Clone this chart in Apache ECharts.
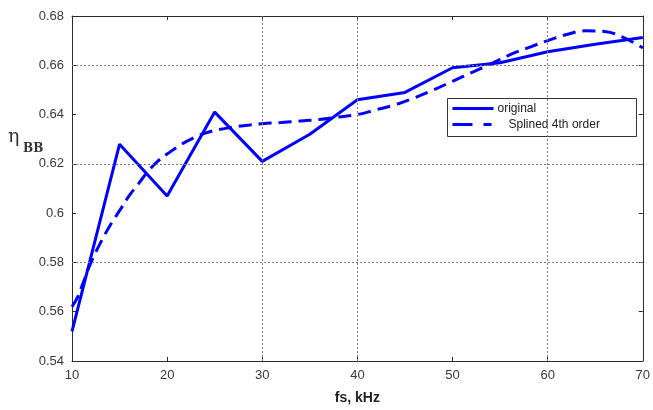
<!DOCTYPE html>
<html>
<head>
<meta charset="utf-8">
<style>
  html, body { margin: 0; padding: 0; background: #fff; }
  #chart { width: 653px; height: 410px; }
</style>
<script src="https://cdn.jsdelivr.net/npm/echarts@6/dist/echarts.min.js"></script>
</head>
<body>
<div id="chart"></div>
<script>
// Sampling frequency (kHz) and measured efficiency
const fsOriginal  = [10, 15, 20, 25, 30, 35, 40, 45, 50, 55, 60, 65, 70];
const etaOriginal = [0.552, 0.628, 0.607, 0.641, 0.621, 0.632, 0.646, 0.649, 0.659, 0.661, 0.6655, 0.6685, 0.6713];

// 4th-order spline fit of the same data
const fsSpline  = [10, 10.6, 11.2, 12, 13, 14, 15, 16, 17, 18, 19, 20, 22, 24, 26, 28, 30, 32, 34, 36, 38, 40, 42, 44, 46, 48, 50, 52, 54, 56, 58, 60, 62, 64, 66, 68, 70];
const etaSpline = [0.562, 0.566, 0.572, 0.580, 0.588, 0.595, 0.601, 0.607, 0.612, 0.617, 0.621, 0.624, 0.629, 0.6325, 0.6343, 0.6355, 0.6363, 0.6368, 0.6374, 0.638, 0.639, 0.640, 0.642, 0.644, 0.6468, 0.650, 0.6535, 0.657, 0.6605, 0.6642, 0.6672, 0.670, 0.6725, 0.674, 0.6737, 0.6712, 0.667];

// Axis ticks and dotted reference lines
const xTicks = { min: 10, max: 70, step: 10 };
const yTicks = { min: 0.54, max: 0.68, step: 0.02 };
const gridX = [30, 40, 60];
const gridY = [0.58, 0.62, 0.66];

const legendNames = ['original', 'Splined 4th order'];

const chart = echarts.init(document.getElementById('chart'), null, { renderer: 'canvas' });

const axisColor = '#2b2b2b';
const labelColor = '#3a3a3a';
const lineBlue = '#0000ff';
const font = 'Liberation Sans, Arial, sans-serif';

function xAxisDef(pos, withLabels) {
  return {
    type: 'value', position: pos, min: xTicks.min, max: xTicks.max, interval: xTicks.step,
    axisLine: { show: true, onZero: false, lineStyle: { color: axisColor, width: 1 } },
    axisTick: { show: true, inside: true, length: 4, lineStyle: { color: axisColor } },
    axisLabel: { show: withLabels, color: labelColor, fontSize: 13, fontFamily: font, margin: 8 },
    splitLine: { show: false },
    name: withLabels ? 'fs, kHz' : '',
    nameLocation: 'middle', nameGap: 30,
    nameTextStyle: { fontWeight: 'bold', fontSize: 14, color: '#222', fontFamily: font }
  };
}
function yAxisDef(pos, withLabels) {
  return {
    type: 'value', position: pos, min: yTicks.min, max: yTicks.max, interval: yTicks.step,
    axisLine: { show: true, onZero: false, lineStyle: { color: axisColor, width: 1 } },
    axisTick: { show: true, inside: true, length: 4, lineStyle: { color: axisColor } },
    axisLabel: {
      show: withLabels, color: labelColor, fontSize: 13, fontFamily: font, margin: 8,
      formatter: v => String(parseFloat(v.toFixed(2)))
    },
    splitLine: { show: false }
  };
}

const dotted = { color: '#7a7a7a', width: 1, type: [2, 2] };

chart.setOption({
  animation: false,
  backgroundColor: '#fff',
  grid: { left: 72, right: 10, top: 16, bottom: 48, show: false },
  xAxis: [xAxisDef('bottom', true), xAxisDef('top', false)],
  yAxis: [yAxisDef('left', true), yAxisDef('right', false)],
  series: [
    {
      name: 'grid',
      type: 'line',
      data: [],
      silent: true,
      markLine: {
        silent: true, symbol: 'none', label: { show: false },
        lineStyle: dotted,
        data: gridX.map(v => ({ xAxis: v })).concat(gridY.map(v => ({ yAxis: v })))
      }
    },
    {
      name: legendNames[1],
      type: 'line',
      smooth: 0.4,
      showSymbol: false,
      data: fsSpline.map((x, i) => [x, etaSpline[i]]),
      lineStyle: { color: lineBlue, width: 3, type: [13, 7] },
      z: 3
    },
    {
      name: legendNames[0],
      type: 'line',
      showSymbol: false,
      data: fsOriginal.map((x, i) => [x, etaOriginal[i]]),
      lineStyle: { color: lineBlue, width: 3 },
      z: 4
    }
  ],
  graphic: [
    // y-axis name: eta with subscript BB
    {
      type: 'text', left: 8, top: 128,
      style: { text: 'η', fontSize: 19, fontFamily: 'DejaVu Serif, serif', fill: '#333' }
    },
    {
      type: 'text', left: 23, top: 143,
      style: { text: 'BB', fontSize: 12, fontWeight: 'bold', fontFamily: 'DejaVu Serif, serif', fill: '#333' }
    },
    // legend box
    {
      type: 'group', left: 447, top: 98,
      children: [
        { type: 'rect', shape: { x: 0, y: 0, width: 189, height: 38 },
          style: { fill: '#fff', stroke: '#333', lineWidth: 1 } },
        { type: 'line', shape: { x1: 5, y1: 10, x2: 46, y2: 10 },
          style: { stroke: lineBlue, lineWidth: 3 } },
        { type: 'text', x: 50, y: 10,
          style: { text: legendNames[0], fontSize: 12, fontFamily: font, fill: '#222', verticalAlign: 'middle' } },
        { type: 'line', shape: { x1: 5, y1: 26, x2: 44, y2: 26 },
          style: { stroke: lineBlue, lineWidth: 3, lineDash: [20, 11] } },
        { type: 'text', x: 61, y: 26,
          style: { text: legendNames[1], fontSize: 12, fontFamily: font, fill: '#222', verticalAlign: 'middle' } }
      ]
    }
  ]
});
</script>
</body>
</html>
